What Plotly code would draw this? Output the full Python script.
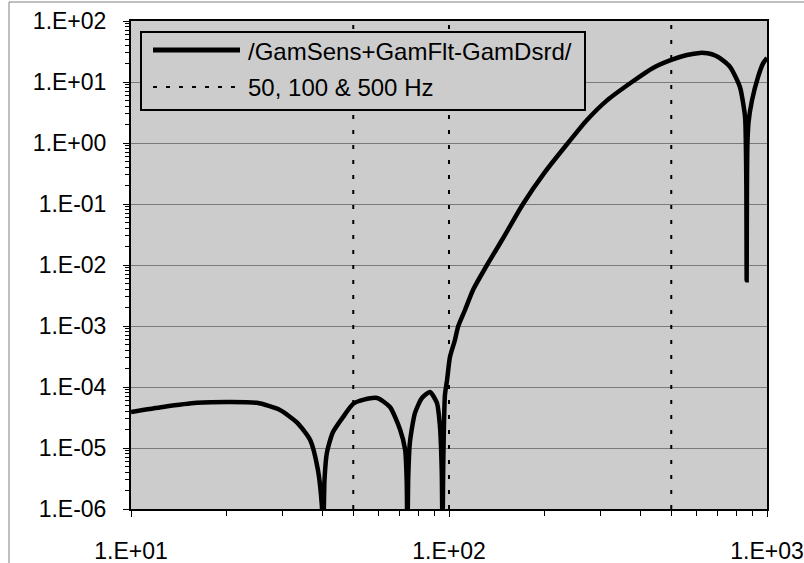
import plotly.graph_objects as go

# ---- data ----
freq_hz = [10, 12.6, 16.1, 20.5, 24.9, 29.4, 33.3, 36.6, 38.7, 39.8, 40.2, 40.6, 41.3, 43.1,
           46.4, 50, 54, 59.4, 65.2, 70.2, 72.8, 73.6, 74.0, 74.4, 75.3, 78.1, 82.2, 87.1,
           91.6, 93.7, 94.9, 95.4, 95.9, 97.1, 98.6, 100.7, 104.4, 106.7, 112.3, 119, 131.7,
           146.8, 170.9, 200, 236.7, 271.6, 314, 376, 438, 500, 560, 615,
           650, 690, 711, 766, 822, 853, 858, 861, 863, 865, 868, 875, 897, 937, 971, 1000]
gam_err = [3.9e-5, 4.7e-5, 5.5e-5, 5.7e-5, 5.5e-5, 4.2e-5, 2.6e-5, 1.35e-5, 4.4e-6, 1.2e-6,
           3e-7, 3e-6, 8.3e-6, 1.8e-5,
           3.2e-5, 5.3e-5, 6.2e-5, 6.6e-5, 4.7e-5, 2.0e-5, 9.3e-6, 3e-6, 3e-7, 3e-6,
           1.2e-5, 3.7e-5, 6.6e-5, 8.3e-5,
           5.5e-5, 2.2e-5, 4e-6, 3e-7, 5e-6, 7.4e-5, 1.3e-4, 3.1e-4, 5.9e-4, 9.6e-4, 1.83e-3,
           3.9e-3, 1.0e-2,
           2.57e-2, 0.1, 0.33, 1.0, 2.38, 5.0, 10, 17, 23, 27.7, 30,
           29.5, 27, 24.6, 17.6, 8.3, 2.7, 1.0, 0.2, 5.6e-3, 0.2, 1.0, 2.2, 5, 12, 20, 25]
marker_freqs = [50, 100, 500]

series_name = "/GamSens+GamFlt-GamDsrd/"
marker_name = "50, 100 & 500 Hz"

x_tickvals = [10, 100, 1000]
x_ticktext = ["1.E+01", "1.E+02", "1.E+03"]
y_tickvals = [1e-6, 1e-5, 1e-4, 1e-3, 1e-2, 1e-1, 1e0, 1e1, 1e2]
y_ticktext = ["1.E-06", "1.E-05", "1.E-04", "1.E-03", "1.E-02", "1.E-01",
              "1.E+00", "1.E+01", "1.E+02"]

# ---- layout geometry (pixels) ----
W, H = 804, 563
L, R, T, B = 131, 767, 21, 509


def px(x):
    return (x - L) / (R - L)


def py(y):
    return (B - y) / (B - T)


FONT = "Liberation Sans, Arial, sans-serif"

fig = go.Figure()

# dotted marker lines
vx, vy = [], []
for f in marker_freqs:
    vx += [f, f, None]
    vy += [1e-6, 1e2, None]
fig.add_trace(go.Scatter(x=vx, y=vy, mode="lines", name=marker_name, showlegend=False,
                         line=dict(color="black", width=2, dash="4px,11px")))

# main curve
fig.add_trace(go.Scatter(x=freq_hz, y=gam_err, mode="lines", name=series_name,
                         showlegend=False, line=dict(color="black", width=4.5, shape="spline",
                                                     smoothing=0.6)))

minor_x = [m * 10 ** d for d in (1, 2) for m in range(2, 10)]
minor_y = [m * 10 ** d for d in range(-6, 2) for m in range(2, 10)]

fig.update_xaxes(type="log", range=[1, 3], tickmode="array", tickvals=x_tickvals,
                 ticktext=x_ticktext, ticks="outside", ticklen=6, tickcolor="black",
                 showgrid=False, zeroline=False, showline=True, linecolor="black",
                 linewidth=2, mirror=True, ticklabelstandoff=14, automargin=False,
                 tickfont=dict(size=23),
                 minor=dict(tickmode="array", tickvals=minor_x, ticks="outside",
                            ticklen=5, tickcolor="black", showgrid=False))
fig.update_yaxes(type="log", range=[-6, 2], tickmode="array", tickvals=y_tickvals,
                 ticktext=y_ticktext, ticks="outside", ticklen=6, tickcolor="black",
                 showgrid=True, gridcolor="#7a7a7a", gridwidth=1, zeroline=False,
                 showline=True, linecolor="black", linewidth=2, mirror=True,
                 ticklabelstandoff=12, automargin=False, tickfont=dict(size=23),
                 minor=dict(tickmode="array", tickvals=minor_y, ticks="outside",
                            ticklen=4, tickcolor="black", showgrid=False))

shapes = [
    # outer chart frame (partially visible)
    dict(type="line", xref="paper", yref="paper", x0=px(9), x1=px(W + 5), y0=py(2), y1=py(2),
         line=dict(color="#808080", width=1)),
    dict(type="line", xref="paper", yref="paper", x0=px(9), x1=px(9), y0=py(2), y1=py(H + 5),
         line=dict(color="#808080", width=1)),
    # legend box
    dict(type="rect", xref="paper", yref="paper", x0=px(141), x1=px(585), y0=py(110), y1=py(32),
         fillcolor="#cccccc", line=dict(color="black", width=2), layer="above"),
    dict(type="line", xref="paper", yref="paper", x0=px(153), x1=px(240), y0=py(50), y1=py(50),
         line=dict(color="black", width=5), layer="above"),
    dict(type="line", xref="paper", yref="paper", x0=px(153), x1=px(237), y0=py(87), y1=py(87),
         line=dict(color="black", width=2, dash="4px,9px"), layer="above"),
]

annotations = [
    dict(text=series_name, xref="paper", yref="paper", x=px(246), y=py(51),
         xanchor="left", yanchor="middle", showarrow=False,
         font=dict(family=FONT, size=24, color="black")),
    dict(text=marker_name, xref="paper", yref="paper", x=px(246), y=py(88),
         xanchor="left", yanchor="middle", showarrow=False,
         font=dict(family=FONT, size=24, color="black")),
]

fig.update_layout(
    width=W, height=H, autosize=False,
    margin=dict(l=L, r=W - R, t=T, b=H - B, pad=0),
    paper_bgcolor="white", plot_bgcolor="#cccccc",
    font=dict(family=FONT, size=23, color="black"),
    showlegend=False, shapes=shapes, annotations=annotations,
)

fig.write_html("out.html")
